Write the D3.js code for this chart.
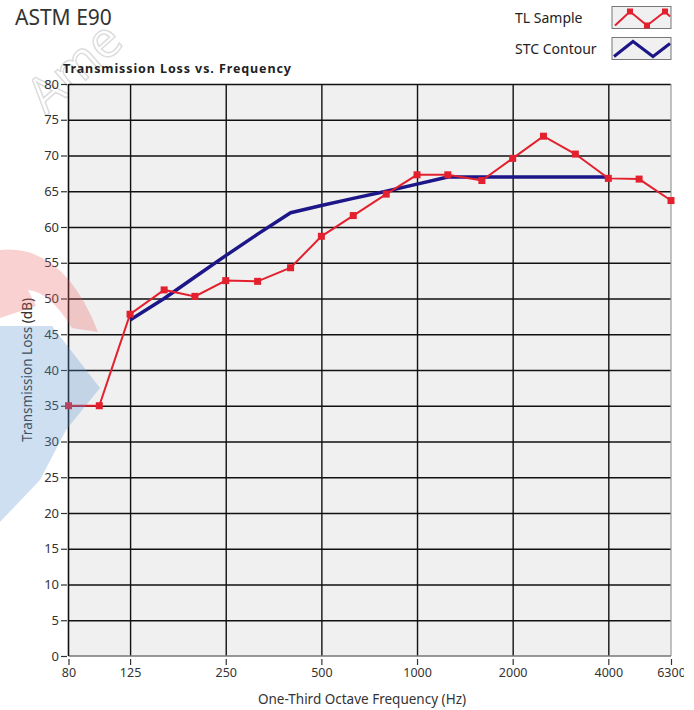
<!DOCTYPE html>
<html>
<head>
<meta charset="utf-8">
<script src="https://cdn.jsdelivr.net/npm/d3@7"></script>
<style>
  body { margin: 0; background: #fff; }
  svg { display: block; font-family: "Noto Sans", "Open Sans", sans-serif; }
</style>
</head>
<body>
<div id="chart"></div>
<script>
// One-third octave bands and measured transmission loss.
const frequencies = [80, 100, 125, 160, 200, 250, 315, 400, 500, 630, 800, 1000, 1250, 1600, 2000, 2500, 3150, 4000, 5000, 6300];
const tlSample = [35, 35, 47.8, 51.2, 50.3, 52.5, 52.4, 54.3, 58.7, 61.6, 64.6, 67.3, 67.3, 66.5, 69.6, 72.7, 70.2, 66.8, 66.7, 63.7];

// STC contour, 125 - 4000 Hz.
const stcFrequencies = [125, 160, 200, 250, 315, 400, 500, 630, 800, 1000, 1250, 1600, 2000, 2500, 3150, 4000];
const stcContour = [47, 50, 53, 56, 59, 62, 63, 64, 65, 66, 67, 67, 67, 67, 67, 67];

const xTickValues = [80, 125, 250, 500, 1000, 2000, 4000, 6300];
const yTickValues = [0, 5, 10, 15, 20, 25, 30, 35, 40, 45, 50, 55, 60, 65, 70, 75, 80];

const width = 694, height = 710;
const plot = { left: 68.5, right: 671, top: 84, bottom: 656 };
const red = '#e3202e', blue = '#1c1688';

var svg = d3.select('#chart').append('svg')
  .attr('width', width)
  .attr('height', height);

var x = d3.scaleLog().domain([80, 6300]).range([plot.left, plot.right]);
var y = d3.scaleLinear().domain([0, 80]).range([plot.bottom, plot.top]);

// Watermark, drawn first so it sits behind the page text.
var wm = svg.append('g').attr('pointer-events', 'none');
wm.append('text')
  .attr('transform', 'translate(46,116) rotate(-42)')
  .attr('font-size', 50)
  .attr('fill', 'none')
  .attr('stroke', '#dcdcdc')
  .attr('stroke-width', 1.5)
  .text('Ame');

svg.append('defs').append('clipPath').attr('id', 'label-clip')
  .append('rect').attr('x', 0).attr('y', 0).attr('width', 684).attr('height', height);

// Titles.
svg.append('text')
  .attr('x', 15).attr('y', 25)
  .attr('font-size', 21)
  .attr('fill', '#333')
  .text('ASTM E90');

svg.append('text')
  .attr('x', 63).attr('y', 73)
  .attr('font-size', 12.5)
  .attr('font-weight', 'bold')
  .attr('fill', '#222')
  .attr('textLength', 228)
  .text('Transmission Loss vs. Frequency');

// Plot background.
svg.append('rect')
  .attr('x', plot.left).attr('y', plot.top)
  .attr('width', plot.right - plot.left)
  .attr('height', plot.bottom - plot.top)
  .attr('fill', '#f0f0f0');

// Grid.
svg.append('g')
  .attr('class', 'grid-x')
  .attr('transform', 'translate(0,' + plot.bottom + ')')
  .call(d3.axisBottom(x).tickValues(xTickValues.slice(1, -1)).tickSize(-(plot.bottom - plot.top)).tickFormat(''))
  .call(g => g.select('.domain').remove())
  .call(g => g.selectAll('line').attr('stroke', '#111').attr('stroke-width', 1.4));

svg.append('g')
  .attr('class', 'grid-y')
  .attr('transform', 'translate(' + plot.left + ',0)')
  .call(d3.axisLeft(y).tickValues(yTickValues.slice(1)).tickSize(-(plot.right - plot.left)).tickFormat(''))
  .call(g => g.select('.domain').remove())
  .call(g => g.selectAll('line').attr('stroke', '#111').attr('stroke-width', 1.4));

// Frame.
svg.append('line')
  .attr('x1', plot.right).attr('x2', plot.right)
  .attr('y1', plot.top).attr('y2', plot.bottom)
  .attr('stroke', '#999').attr('stroke-width', 1.2);
svg.append('line')
  .attr('x1', plot.left).attr('x2', plot.right)
  .attr('y1', plot.bottom).attr('y2', plot.bottom)
  .attr('stroke', '#777').attr('stroke-width', 1.4);
svg.append('line')
  .attr('x1', plot.left).attr('x2', plot.left)
  .attr('y1', plot.top).attr('y2', plot.bottom)
  .attr('stroke', '#111').attr('stroke-width', 1.6);

// Axes.
var yAxis = svg.append('g')
  .attr('transform', 'translate(' + (plot.left - 1.5) + ',0)')
  .call(d3.axisLeft(y).tickValues(yTickValues).tickSize(6).tickPadding(2));
yAxis.select('.domain').remove();
yAxis.selectAll('line').attr('stroke', '#333').attr('stroke-width', 1.2);
yAxis.selectAll('text').attr('font-size', 13).attr('fill', '#333')
  .attr('font-family', '"Noto Sans", sans-serif');

var xAxis = svg.append('g')
  .attr('transform', 'translate(0,' + (plot.bottom + 3) + ')')
  .attr('clip-path', 'url(#label-clip)')
  .call(d3.axisBottom(x).tickValues(xTickValues).tickFormat(d3.format('d')).tickSize(6).tickPadding(3));
xAxis.select('.domain').remove();
xAxis.selectAll('line').attr('stroke', '#333').attr('stroke-width', 1.2);
xAxis.selectAll('text').attr('font-size', 12.5).attr('fill', '#333')
  .attr('font-family', '"Noto Sans", sans-serif');

svg.append('text')
  .attr('x', 362).attr('y', 704)
  .attr('text-anchor', 'middle')
  .attr('font-size', 13.5)
  .attr('fill', '#333')
  .text('One-Third Octave Frequency (Hz)');

svg.append('text')
  .attr('transform', 'translate(32,370) rotate(-90)')
  .attr('text-anchor', 'middle')
  .attr('font-size', 13.5)
  .attr('fill', '#333')
  .text('Transmission Loss (dB)');

// Series.
var line = d3.line()
  .x(d => x(d[0]))
  .y(d => y(d[1]));

svg.append('path')
  .datum(d3.zip(stcFrequencies, stcContour))
  .attr('d', line)
  .attr('fill', 'none')
  .attr('stroke', blue)
  .attr('stroke-width', 3.5)
  .attr('stroke-linejoin', 'round');

var tl = d3.zip(frequencies, tlSample);

svg.append('path')
  .datum(tl)
  .attr('d', line)
  .attr('fill', 'none')
  .attr('stroke', red)
  .attr('stroke-width', 2);

svg.append('g').selectAll('rect')
  .data(tl)
  .join('rect')
  .attr('x', d => x(d[0]) - 3.5)
  .attr('y', d => y(d[1]) - 3.5)
  .attr('width', 7)
  .attr('height', 7)
  .attr('fill', red);

// Legend.
const legendItems = ['TL Sample', 'STC Contour'];
const legendShapes = [
  [[3, 19], [18, 5], [35, 19], [53, 5], [58, 10]],
  [[2, 19], [21, 4], [41, 19], [58, 6]]
];

var legend = svg.append('g').selectAll('g')
  .data(legendItems)
  .join('g')
  .attr('transform', (d, i) => 'translate(0,' + (i * 31) + ')');

legend.append('text')
  .attr('x', 515).attr('y', 23)
  .attr('font-size', 14)
  .attr('fill', '#222')
  .text(d => d);

legend.append('rect')
  .attr('x', 612).attr('y', 6.5)
  .attr('width', 59).attr('height', 22)
  .attr('fill', '#f0f0f0')
  .attr('stroke', '#777')
  .attr('stroke-width', 1);

var legendLine = d3.line();

legend.append('path')
  .attr('transform', 'translate(612,6.5)')
  .attr('d', (d, i) => legendLine(legendShapes[i]))
  .attr('fill', 'none')
  .attr('stroke', (d, i) => i === 0 ? red : blue)
  .attr('stroke-width', (d, i) => i === 0 ? 2 : 3);

svg.append('g')
  .attr('transform', 'translate(612,6.5)')
  .selectAll('rect')
  .data(legendShapes[0].slice(1, 4))
  .join('rect')
  .attr('x', d => d[0] - 3)
  .attr('y', d => d[1] - 3)
  .attr('width', 6).attr('height', 6)
  .attr('fill', red);

// Coloured watermark shapes over the left edge.
var wmShapes = svg.append('g').attr('pointer-events', 'none');
wmShapes.append('path')
  .attr('d', 'M0,250 Q64,244 98,332 L72,328 Q50,292 28,290 L36,306 L0,318 Z')
  .attr('fill', 'rgb(232,90,90)')
  .attr('opacity', 0.28);
wmShapes.append('path')
  .attr('d', 'M0,326 L52,326 L100,388 L66,430 L40,480 L0,522 Z')
  .attr('fill', 'rgb(90,150,210)')
  .attr('opacity', 0.3);
</script>
</body>
</html>
